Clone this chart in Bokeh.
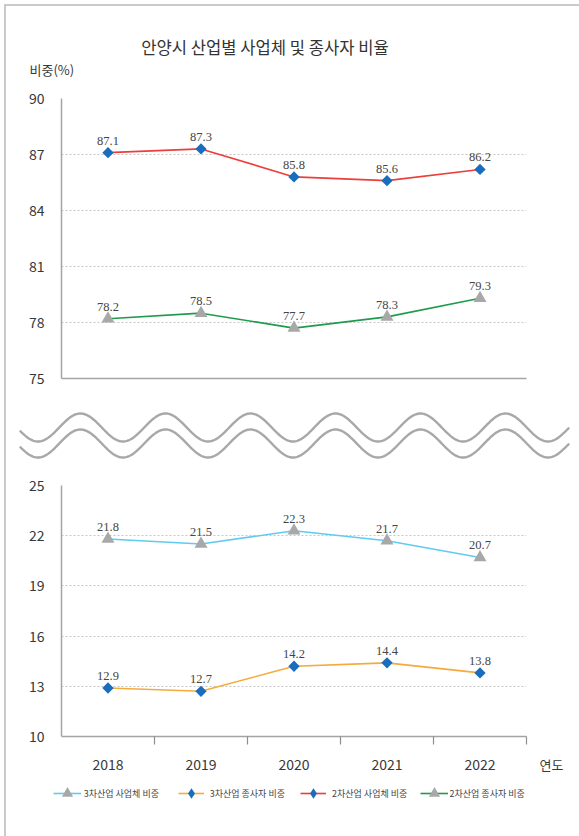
import numpy as np
from bokeh.plotting import figure
from bokeh.layouts import column, row
from bokeh.models import (Range1d, FixedTicker, Legend, LegendItem, Label,
                          CustomJSTickFormatter)
from bokeh.core.properties import value
from bokeh.embed import file_html
from bokeh.resources import INLINE

# --- data -------------------------------------------------------------
years = ["2018", "2019", "2020", "2021", "2022"]
mfg_firm_share = [87.1, 87.3, 85.8, 85.6, 86.2]     # 2차산업 사업체 비중
mfg_worker_share = [78.2, 78.5, 77.7, 78.3, 79.3]   # 2차산업 종사자 비중
svc_firm_share = [21.8, 21.5, 22.3, 21.7, 20.7]     # 3차산업 사업체 비중
svc_worker_share = [12.9, 12.7, 14.2, 14.4, 13.8]   # 3차산업 종사자 비중
upper_ticks = [75, 78, 81, 84, 87, 90]
lower_ticks = [10, 13, 16, 19, 22, 25]

# --- style ------------------------------------------------------------
KR = "Noto Sans CJK KR"
SERIF = "Liberation Serif"
RED = "#ea3f3a"
GREEN = "#1e9c4c"
SKY = "#5fcbf1"
ORANGE = "#f6aa3c"
BLUE = "#1a6dbd"
GREY = "#a8a8a8"
AXIS = "#a4a4a4"
TEXT = "#383838"

xpos = [i + 0.5 for i in range(len(years))]


def panel(width, height, x0, y_top):
    """Plain drawing area whose data units are page pixels (y grows down)."""
    p = figure(width=width, height=height, x_range=Range1d(x0, x0 + width),
               y_range=Range1d(y_top + height, y_top), output_backend="svg",
               toolbar_location=None, min_border=0,
               border_fill_color=None, background_fill_color=None,
               outline_line_color=None)
    p.frame_align = False
    p.axis.visible = False
    p.grid.visible = False
    return p


def chart(width, height, top, bottom, lo, hi, ticks):
    p = figure(width=width, height=height, x_range=Range1d(0, len(years)),
               y_range=Range1d(lo, hi), output_backend="svg",
               toolbar_location=None, min_border_left=61,
               min_border_right=width - 526,
               min_border_top=top, min_border_bottom=bottom,
               border_fill_color=None, background_fill_color=None,
               outline_line_color=None)
    p.frame_align = False
    p.yaxis.ticker = FixedTicker(ticks=ticks)
    p.yaxis.major_tick_in = 0
    p.yaxis.major_tick_out = 0
    p.yaxis.minor_tick_line_color = None
    p.yaxis.major_label_standoff = 17
    p.yaxis.major_label_text_font = KR
    p.yaxis.major_label_text_font_size = "14px"
    p.yaxis.major_label_text_color = TEXT
    p.axis.axis_line_color = AXIS
    p.axis.axis_line_width = 1.5
    p.xgrid.visible = False
    p.ygrid.ticker = FixedTicker(ticks=ticks)
    p.ygrid.grid_line_color = "#c6c6c6"
    p.ygrid.grid_line_dash = "2 2"
    p.ygrid.grid_line_width = 1
    return p


def series(p, vals, line_color, marker):
    p.line(xpos, vals, line_color=line_color, line_width=1.6, line_join="round")
    if marker == "diamond":
        p.scatter(xpos, vals, marker="square", angle=np.pi / 4, size=8,
                  fill_color=BLUE, line_color=None)
    else:
        p.scatter(xpos, vals, marker="triangle", size=13,
                  fill_color=GREY, line_color=None)
    p.text(xpos, vals, text=[f"{v:.1f}" for v in vals], text_align="center",
           text_baseline="alphabetic", y_offset=-12,
           text_font=value(SERIF), text_font_size="12.5px",
           text_color="#454545")


# --- heading ------------------------------------------------------------
head = panel(579, 85, 0, 0)
head.add_layout(Label(x=140.7, y=46.5, text="안양시 산업별 사업체 및 종사자 비율",
                      text_align="left", text_baseline="middle",
                      text_font=KR, text_font_size="16.6px", text_color="#333333"))
head.add_layout(Label(x=29, y=69, text="비중(%)", text_align="left",
                      text_baseline="middle", text_font=KR,
                      text_font_size="13px", text_color=TEXT))

# --- upper chart: 2차산업 ---------------------------------------------
top = chart(579, 315, 13, 22, 75, 90, upper_ticks)
top.xaxis.ticker = FixedTicker(ticks=[])
top.xaxis.major_tick_line_color = None
top.xaxis.minor_tick_line_color = None
series(top, mfg_firm_share, RED, "diamond")
series(top, mfg_worker_share, GREEN, "triangle")

# --- axis break ---------------------------------------------------------
brk = panel(579, 70, 0, 400)
wx = np.linspace(20, 568, 500)
wave = 427 - 14 * np.cos(2 * np.pi * (wx - 80) / 85)
brk.line(wx, wave, line_color=GREY, line_width=2.4, line_cap="round")
brk.line(wx, wave + 16, line_color=GREY, line_width=2.4, line_cap="round")

# --- lower chart: 3차산업 ---------------------------------------------
bot = chart(530, 308, 15, 42, 10, 25, lower_ticks)
bot.xaxis.ticker = FixedTicker(ticks=xpos, minor_ticks=list(range(1, len(years) + 1)))
bot.xaxis.formatter = CustomJSTickFormatter(args=dict(labels=years),
                                            code="return labels[Math.floor(tick)]")
bot.xaxis.major_tick_line_color = None
bot.xaxis.major_tick_in = 0
bot.xaxis.major_tick_out = 0
bot.xaxis.minor_tick_line_color = "#8e8e8e"
bot.xaxis.minor_tick_line_width = 1.2
bot.xaxis.minor_tick_in = 0
bot.xaxis.minor_tick_out = 8
bot.xaxis.major_label_standoff = 14
bot.xaxis.major_label_text_font = KR
bot.xaxis.major_label_text_font_size = "14px"
bot.xaxis.major_label_text_color = TEXT
series(bot, svc_firm_share, SKY, "triangle")
series(bot, svc_worker_share, ORANGE, "diamond")

side = panel(49, 308, 530, 470)
side.add_layout(Label(x=539, y=763.5, text="연도", text_align="left",
                      text_baseline="middle", text_font=KR,
                      text_font_size="13px", text_color=TEXT))

# --- legend -------------------------------------------------------------
# key glyphs only: a single undefined point, so nothing shows in the panel
foot = panel(579, 58, 0, 778)
nan = [float("nan")]
key_red = foot.line(nan, nan, line_color=RED, line_width=1.6)
key_green = foot.line(nan, nan, line_color=GREEN, line_width=1.6)
key_sky = foot.line(nan, nan, line_color=SKY, line_width=1.6)
key_orange = foot.line(nan, nan, line_color=ORANGE, line_width=1.6)
key_dia = foot.scatter(nan, nan, marker="diamond", fill_color=BLUE, line_color=None)
key_tri = foot.scatter(nan, nan, marker="triangle", fill_color=GREY, line_color=None)

entries = [
    # label, key renderers, glyph box (w, h), left edge, label gap
    ("3차산업 사업체 비중", [key_sky, key_tri], 28, 28, 52.7, 3),
    ("3차산업 종사자 비중", [key_orange, key_dia], 26, 26, 177.7, 6),
    ("2차산업 사업체 비중", [key_red, key_dia], 26, 26, 300, 6),
    ("2차산업 종사자 비중", [key_green, key_tri], 28, 28, 419.5, 2),
]
for label, rends, gw, gh, left, gap in entries:
    foot.add_layout(Legend(
        items=[LegendItem(label=label, renderers=rends)],
        location=(left, 43 - gh / 2), glyph_width=gw, glyph_height=gh,
        label_height=gh, label_standoff=gap, padding=0, margin=0,
        border_line_color=None, background_fill_color=None,
        label_text_font=KR, label_text_font_size="9px",
        label_text_color="#444444"))

page = column(head, top, brk, row(bot, side, spacing=0), foot, spacing=0, styles={
    "background": "linear-gradient(#cacaca,#cacaca) 4px 4px / 575px 2px no-repeat, "
                  "linear-gradient(#cacaca,#cacaca) 4px 4px / 2px 832px no-repeat, #ffffff"})

open("out.html", "w").write(file_html(page, INLINE))
